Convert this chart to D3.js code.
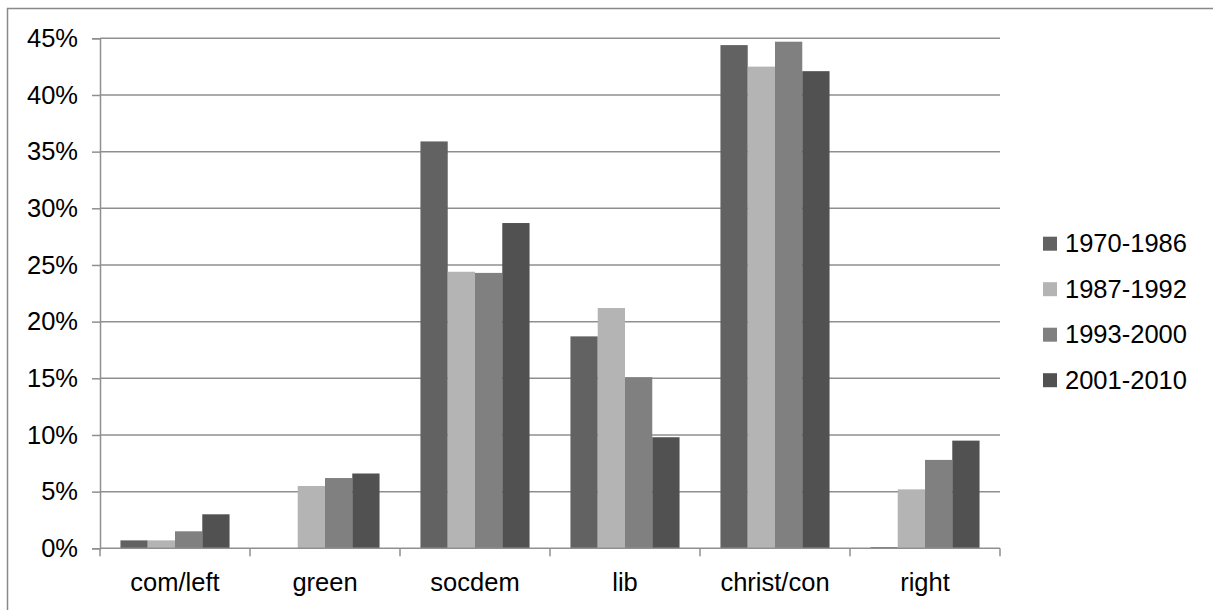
<!DOCTYPE html>
<html><head><meta charset="utf-8">
<script src="https://cdn.jsdelivr.net/npm/d3@7"></script>
<style>body{margin:0;background:#fff;}svg{display:block;font-family:"Liberation Sans",Arial,sans-serif;}</style>
</head><body><svg id="c" width="1213" height="610"></svg>
<script>
const categories = ["com/left","green","socdem","lib","christ/con","right"];
const seriesNames = ["1970-1986","1987-1992","1993-2000","2001-2010"];
const s1970 = [0.7, 0, 35.9, 18.7, 44.4, 0.1];
const s1987 = [0.7, 5.5, 24.4, 21.2, 42.5, 5.2];
const s1993 = [1.5, 6.2, 24.3, 15.1, 44.7, 7.8];
const s2001 = [3.0, 6.6, 28.7, 9.8, 42.1, 9.5];
const yTicks = [0,5,10,15,20,25,30,35,40,45];
const colors = ["#626262","#b4b4b4","#808080","#515151"];
const allSeries = [s1970, s1987, s1993, s2001];

const FS = 25.5;
const svg = d3.select("#c");
const L = 100, R = 1000, T = 38.3, B = 548.3;
svg.append("rect").attr("x",7.5).attr("y",8.5).attr("width",1230).attr("height",640)
  .attr("fill","#fff").attr("stroke","#898989").attr("stroke-width",1.5);

const y = d3.scaleLinear().domain([0,45]).range([B,T]);
const x0 = d3.scaleBand().domain(categories).range([L,R]).padding(0);
const bw = x0.bandwidth();
const gap = bw*1.5/5.5;
const x1 = d3.scaleBand().domain(seriesNames).range([gap/2, bw-gap/2]).padding(0);

// gridlines
svg.append("g").selectAll("line").data(yTicks.filter(d=>d>0)).join("line")
  .attr("x1",L).attr("x2",R).attr("y1",d=>y(d)).attr("y2",d=>y(d))
  .attr("stroke","#8f8f8f").attr("stroke-width",1.5);

// y axis
const yAxis = d3.axisLeft(y).tickValues(yTicks).tickSize(8).tickPadding(14).tickFormat(d=>d+"%");
const gy = svg.append("g").attr("transform",`translate(${L},0)`).call(yAxis);
gy.select(".domain").attr("stroke","#8f8f8f").attr("stroke-width",1.5);
gy.selectAll(".tick line").attr("stroke","#8f8f8f").attr("stroke-width",1.5);
gy.selectAll(".tick text").attr("font-size",FS).attr("fill","#000")
  .attr("font-family","'Liberation Sans',Arial,sans-serif");

// bars
const data = [];
categories.forEach((c,i)=>seriesNames.forEach((s,j)=>data.push({c,s,v:allSeries[j][i],j})));
svg.append("g").selectAll("rect").data(data).join("rect")
  .attr("x",d=>x0(d.c)+x1(d.s)).attr("width",x1.bandwidth())
  .attr("y",d=>y(d.v)).attr("height",d=>B-y(d.v))
  .attr("fill",d=>colors[d.j]);

// x axis
const xTickPos = d3.range(categories.length+1).map(i=>L+i*bw);
const gx = svg.append("g");
gx.append("line").attr("x1",L).attr("x2",R).attr("y1",B).attr("y2",B)
  .attr("stroke","#8f8f8f").attr("stroke-width",1.5);
gx.selectAll("line.t").data(xTickPos).join("line").attr("class","t")
  .attr("x1",d=>d).attr("x2",d=>d).attr("y1",B).attr("y2",B+8)
  .attr("stroke","#8f8f8f").attr("stroke-width",1.5);
gx.selectAll("text").data(categories).join("text")
  .attr("x",d=>x0(d)+bw/2).attr("y",591).attr("text-anchor","middle")
  .attr("font-size",FS).attr("fill","#000").text(d=>d);

// legend
const lg = svg.append("g");
seriesNames.forEach((s,i)=>{
  const cy = 243.7 + i*45.5;
  lg.append("rect").attr("x",1043).attr("y",cy-7).attr("width",14).attr("height",14).attr("fill",colors[i]);
  lg.append("text").attr("x",1065).attr("y",cy+8.5).attr("font-size",FS).attr("fill","#000").text(s);
});
</script></body></html>
